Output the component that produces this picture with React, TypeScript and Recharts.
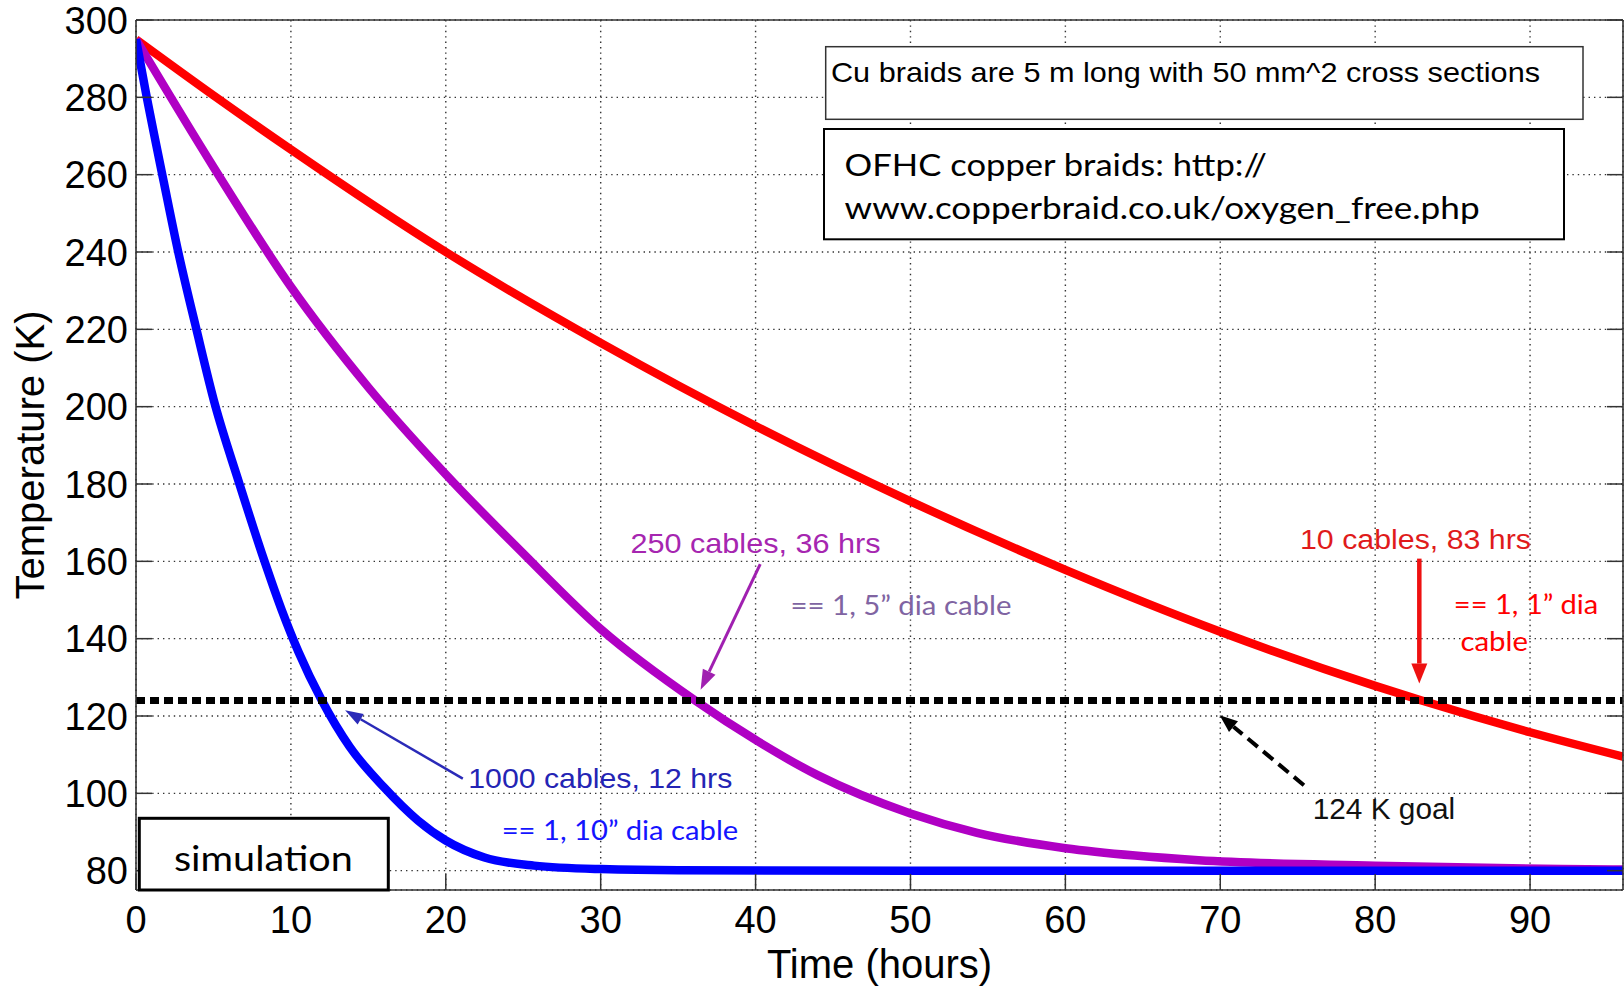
import { LineChart, Line, XAxis, YAxis, CartesianGrid, ReferenceLine } from "recharts";

// axis ticks
const X_TICKS = [0, 10, 20, 30, 40, 50, 60, 70, 80, 90];
const Y_TICKS = [80, 100, 120, 140, 160, 180, 200, 220, 240, 260, 280, 300];

// 10 cables (red)
const redHours = [0, 5, 10, 20, 30, 40, 50, 60, 70, 80, 83, 90, 96];
const redTemp = [295, 280.5, 266.5, 240, 216.5, 195, 175.5, 157.8, 141.8, 127.8, 124, 115.8, 109.5];

// 250 cables (purple)
const purpleHours = [0, 5, 10, 15, 20, 25, 30, 36.1, 40, 44, 50, 54.3, 60, 64.5, 68.6, 80, 92, 96];
const purpleTemp = [295, 262, 231, 205, 182.5, 162, 142.5, 124, 113.8, 104.7, 94.8, 89.8, 85.8, 83.9, 82.7, 81.3, 80.4, 80.3];

// 1000 cables (blue)
const blueHours = [0, 0.6, 1.8, 2.7, 3.9, 5.1, 6.6, 8.3, 9.4, 10.5, 12, 13.8, 16, 18.2, 20, 22.5, 25.7, 30, 35, 50, 96];
const blueTemp = [295, 282, 258, 240.5, 220, 200.5, 181, 160, 147.5, 136.5, 124, 112, 101.6, 93, 87.8, 83.4, 81.3, 80.4, 80.1, 80, 80];

const GOAL = 124;

const rows = (hours: number[], temp: number[]) => hours.map((h, i) => ({ hours: h, temp: temp[i] }));

const FONT_H = '"Liberation Sans", Arial, Helvetica, sans-serif';
const FONT_C = 'Lato, "Open Sans", sans-serif';
const AXIS = "#333";
const TICK_LEN = 16;
const CURVE_W = 8.5;
const TICK_FONT = 38;

// annotation arrows, tail -> head in data units
const ARROWS = [
  { from: [21.1, 103.8], to: [13.5, 121.5], color: "#2a2ab8", width: 2.5, len: 18, half: 6, dash: undefined },
  { from: [40.3, 159.3], to: [36.45, 126.8], color: "#a020b0", width: 3, len: 20, half: 7, dash: undefined },
  { from: [82.85, 160.7], to: [82.85, 128.4], color: "#ee1111", width: 4.5, len: 20, half: 8, dash: undefined },
  { from: [75.4, 102.1], to: [69.96, 120.2], color: "#000", width: 4, len: 18, half: 7, dash: "13 7" },
];

const NOTES = [
  { text: "250 cables, 36 hrs", x: 630.5, y: 553, w: 250, size: 28, font: FONT_H, color: "#a626b0" },
  { text: "== 1, 5\u201D dia cable", x: 790.5, y: 615, w: 221, size: 26, font: FONT_C, color: "#8064a2" },
  { text: "10 cables, 83 hrs", x: 1300, y: 548.5, w: 231, size: 27, font: FONT_H, color: "#e01b1b" },
  { text: "== 1, 1\u201D dia", x: 1453.8, y: 613.7, w: 144.5, size: 26, font: FONT_C, color: "#ff0000" },
  { text: "cable", x: 1460.5, y: 651, w: 67.5, size: 26, font: FONT_C, color: "#ff0000" },
  { text: "124 K goal", x: 1312.7, y: 819, w: 142.5, size: 30, font: FONT_H, color: "#111" },
  { text: "1000 cables, 12 hrs", x: 468.3, y: 788.3, w: 264, size: 28, font: FONT_H, color: "#2424b4" },
  { text: "== 1, 10\u201D dia cable", x: 501.7, y: 840.2, w: 236.5, size: 26, font: FONT_C, color: "#1414ff" },
];

const Arrow = (p: any) => {
  const { x1, y1, x2, y2, stroke, strokeWidth, strokeDasharray, len, half } = p;
  const a = Math.atan2(y2 - y1, x2 - x1);
  const c = Math.cos(a);
  const s = Math.sin(a);
  const bx = x2 - len * c;
  const by = y2 - len * s;
  const pts = `${x2},${y2} ${bx + half * s},${by - half * c} ${bx - half * s},${by + half * c}`;
  return (
    <g>
      <line x1={x1} y1={y1} x2={bx} y2={by} stroke={stroke} strokeWidth={strokeWidth} strokeDasharray={strokeDasharray} />
      <polygon points={pts} fill={stroke} />
    </g>
  );
};

const LeftTick = ({ x, y, payload }: any) => (
  <g>
    <line x1={x + 8} x2={x + 8 + TICK_LEN} y1={y} y2={y} stroke={AXIS} strokeWidth={1.5} />
    <text x={x} y={y} dy="0.36em" textAnchor="end" fontSize={TICK_FONT} fontFamily={FONT_H} fill="#000">
      {payload.value}
    </text>
  </g>
);

const BottomTick = ({ x, y, payload }: any) => (
  <g>
    <line x1={x} x2={x} y1={y - 16} y2={y - 16 - TICK_LEN} stroke={AXIS} strokeWidth={1.5} />
    <text x={x} y={y} dy="0.71em" textAnchor="middle" fontSize={TICK_FONT} fontFamily={FONT_H} fill="#000">
      {payload.value}
    </text>
  </g>
);

const TopTick = ({ x, y }: any) => (
  <line x1={x} x2={x} y1={y} y2={y + TICK_LEN} stroke={AXIS} strokeWidth={1.5} />
);

const RightTick = ({ x, y }: any) => (
  <line x1={x - TICK_LEN} x2={x} y1={y} y2={y} stroke={AXIS} strokeWidth={1.5} />
);

export default function App() {
  return (
    <div style={{ position: "absolute", left: 0, top: 0, width: 1624, height: 994, background: "#fff" }}>
      <LineChart width={1624} height={994} margin={{ top: 19, right: 0, bottom: 0, left: 0 }}>
        <CartesianGrid stroke="#333" strokeWidth={1.4} strokeDasharray="1.4 4" />
        <XAxis
          dataKey="hours"
          type="number"
          domain={[0, 96]}
          ticks={X_TICKS}
          interval={0}
          allowDataOverflow
          height={104}
          tickSize={0}
          tickMargin={16}
          tickLine={false}
          axisLine={{ stroke: AXIS, strokeWidth: 1.6 }}
          tick={(p: any) => <BottomTick {...p} />}
          label={{ value: "Time (hours)", position: "insideBottom", offset: 16, fontSize: 40, fontFamily: FONT_H, fill: "#000" }}
        />
        <XAxis
          xAxisId="top"
          orientation="top"
          type="number"
          domain={[0, 96]}
          ticks={X_TICKS}
          interval={0}
          allowDataOverflow
          height={1}
          tickSize={0}
          tickMargin={0}
          tickLine={false}
          axisLine={{ stroke: AXIS, strokeWidth: 1.6 }}
          tick={(p: any) => <TopTick {...p} />}
        />
        <YAxis
          type="number"
          domain={[75, 300]}
          ticks={Y_TICKS}
          interval={0}
          allowDataOverflow
          width={136}
          tickSize={0}
          tickMargin={8}
          tickLine={false}
          axisLine={{ stroke: AXIS, strokeWidth: 1.6 }}
          tick={(p: any) => <LeftTick {...p} />}
          label={{
            value: "Temperature (K)",
            angle: -90,
            position: "insideLeft",
            offset: 30,
            fontSize: 40,
            fontFamily: FONT_H,
            fill: "#000",
            style: { textAnchor: "middle" },
          }}
        />
        <YAxis
          yAxisId="right"
          orientation="right"
          type="number"
          domain={[75, 300]}
          ticks={Y_TICKS}
          interval={0}
          allowDataOverflow
          width={1}
          tickSize={0}
          tickMargin={0}
          tickLine={false}
          axisLine={{ stroke: AXIS, strokeWidth: 1.6 }}
          tick={(p: any) => <RightTick {...p} />}
        />
        <Line data={rows(redHours, redTemp)} dataKey="temp" type="monotone" stroke="#ff0000" strokeWidth={CURVE_W} dot={false} activeDot={false} isAnimationActive={false} />
        <Line data={rows(purpleHours, purpleTemp)} dataKey="temp" type="monotone" stroke="#b000c4" strokeWidth={CURVE_W} dot={false} activeDot={false} isAnimationActive={false} />
        <Line data={rows(blueHours, blueTemp)} dataKey="temp" type="monotone" stroke="#0000ff" strokeWidth={CURVE_W} dot={false} activeDot={false} isAnimationActive={false} />
        <ReferenceLine y={GOAL} stroke="#000" strokeWidth={7} strokeDasharray="9 5" />
        {ARROWS.map((a, i) => (
          <ReferenceLine
            key={i}
            segment={[{ x: a.from[0], y: a.from[1] }, { x: a.to[0], y: a.to[1] }]}
            stroke={a.color}
            strokeWidth={a.width}
            strokeDasharray={a.dash}
            shape={(p: any) => <Arrow {...p} len={a.len} half={a.half} />}
          />
        ))}
      </LineChart>
      <svg width={1624} height={994} style={{ position: "absolute", left: 0, top: 0, pointerEvents: "none" }}>
        <rect x={825.7} y={46.7} width={757.3} height={72.6} fill="#fff" stroke="#333" strokeWidth={1.5} />
        <text x={831} y={81.7} fontSize={28} fontFamily={FONT_H} fill="#000" textLength={709} lengthAdjust="spacingAndGlyphs">
          Cu braids are 5 m long with 50 mm^2 cross sections
        </text>
        <rect x={824} y={129} width={740} height={110.3} fill="#fff" stroke="#000" strokeWidth={2} />
        <text x={844.6} y={176} fontSize={30} fontFamily={FONT_C} fill="#000" textLength={422.4} lengthAdjust="spacingAndGlyphs">
          OFHC copper braids: http://
        </text>
        <text x={844.6} y={219} fontSize={30} fontFamily={FONT_C} fill="#000" textLength={635} lengthAdjust="spacingAndGlyphs">
          www.copperbraid.co.uk/oxygen_free.php
        </text>
        <rect x={139.3} y={818.3} width={249} height={71.7} fill="#fff" stroke="#000" strokeWidth={3} />
        <text x={174} y={870.7} fontSize={35} fontFamily={FONT_C} fill="#000" textLength={178.7} lengthAdjust="spacingAndGlyphs">
          simulation
        </text>
        {NOTES.map((n, i) => (
          <text key={i} x={n.x} y={n.y} fontSize={n.size} fontFamily={n.font} fill={n.color} textLength={n.w} lengthAdjust="spacingAndGlyphs">
            {n.text}
          </text>
        ))}
      </svg>
    </div>
  );
}
